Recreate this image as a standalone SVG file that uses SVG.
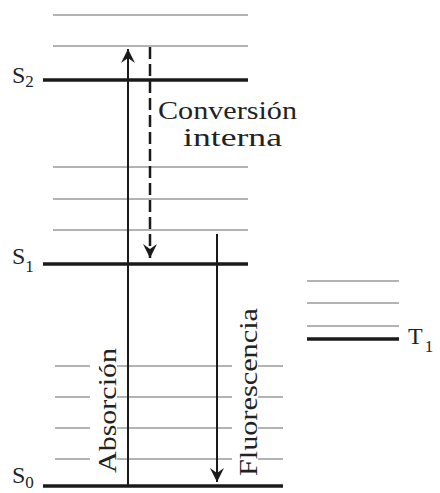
<svg xmlns="http://www.w3.org/2000/svg" width="440" height="493" viewBox="0 0 440 493">
  <style>
    .g { stroke: #b3b3b3; stroke-width: 2; fill: none; }
    .k { stroke: #1a1a1a; stroke-width: 3.5; fill: none; }
    .a { stroke: #1a1a1a; stroke-width: 2; fill: none; }
    .d { stroke: #1a1a1a; stroke-width: 2.5; fill: none; stroke-dasharray: 12 5; }
    .t { font-family: "Liberation Serif", "DejaVu Serif", serif; fill: #222; }
    .lbl { font-size: 25px; }
    .lev { font-size: 24px; }
    .sub { font-size: 17px; }
  </style>
  <defs>
    <marker id="ah" viewBox="-15 -8 16 16" markerWidth="16" markerHeight="16" refX="0" refY="0" orient="auto" markerUnits="userSpaceOnUse">
      <path d="M0,0 L-14,-7 L-9,0 L-14,7 Z" fill="#1a1a1a"/>
    </marker>
  </defs>
  <rect width="440" height="493" fill="#fff"/>

  <g id="S2">
    <line class="g" x1="53" y1="15" x2="248" y2="15"/>
    <line class="g" x1="53" y1="46" x2="248" y2="46"/>
    <line class="k" x1="43" y1="80" x2="248" y2="80"/>
    <text class="t lev" x="12" y="83">S<tspan class="sub" dy="4">2</tspan></text>
  </g>
  <g id="S1">
    <line class="g" x1="53" y1="167" x2="248" y2="167"/>
    <line class="g" x1="53" y1="199" x2="248" y2="199"/>
    <line class="g" x1="53" y1="230" x2="248" y2="230"/>
    <line class="k" x1="43" y1="264" x2="248" y2="264"/>
    <text class="t lev" x="12" y="264">S<tspan class="sub" dy="8">1</tspan></text>
  </g>
  <g id="S0">
    <line class="g" x1="55" y1="366" x2="283" y2="366"/>
    <line class="g" x1="55" y1="397" x2="283" y2="397"/>
    <line class="g" x1="55" y1="428" x2="283" y2="428"/>
    <line class="g" x1="55" y1="459" x2="283" y2="459"/>
    <line class="k" x1="43" y1="486" x2="283" y2="486"/>
    <text class="t lev" x="12" y="483">S<tspan class="sub" dy="5">0</tspan></text>
  </g>
  <g id="T1">
    <line class="g" x1="307" y1="281" x2="399" y2="281"/>
    <line class="g" x1="307" y1="303" x2="399" y2="303"/>
    <line class="g" x1="307" y1="326" x2="399" y2="326"/>
    <line class="k" x1="307" y1="339" x2="399" y2="339"/>
    <text class="t lev" x="408" y="344">T<tspan class="sub" dx="2" dy="8">1</tspan></text>
  </g>

  <g id="connectors">
    <line class="a" x1="128" y1="486" x2="128" y2="49" marker-end="url(#ah)"/>
    <line class="d" x1="150" y1="47" x2="150" y2="258" marker-end="url(#ah)"/>
    <line class="a" x1="217" y1="234" x2="217" y2="482" marker-end="url(#ah)"/>
  </g>

  <g id="labels">
    <rect x="90" y="345" width="27" height="130" fill="#fff"/>
    <rect x="232" y="305" width="26" height="172" fill="#fff"/>
    <text class="t lbl" x="158" y="119" textLength="139" lengthAdjust="spacingAndGlyphs">Conversión</text>
    <text class="t lbl" x="183" y="146" textLength="99" lengthAdjust="spacingAndGlyphs">interna</text>
    <text class="t lbl" transform="translate(116,473) rotate(-90)" x="0" y="0" textLength="125" lengthAdjust="spacingAndGlyphs">Absorción</text>
    <text class="t lbl" transform="translate(257,476) rotate(-90)" x="0" y="0" textLength="168" lengthAdjust="spacingAndGlyphs">Fluorescencia</text>
  </g>
</svg>
